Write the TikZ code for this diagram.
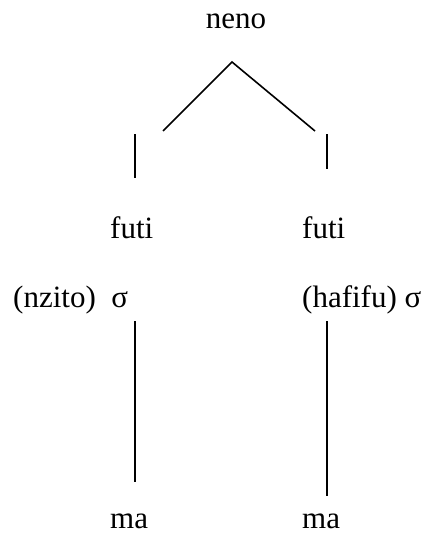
\documentclass[tikz,border=0pt]{standalone}
\usepackage{fontspec}
\setmainfont{Liberation Serif}
\begin{document}
\begin{tikzpicture}[x=1pt,y=-1pt,
  lbl/.style={anchor=base west,inner sep=0pt,font=\fontsize{31}{37}\selectfont},
  edge/.style={line width=1.6pt}]
\useasboundingbox (0,0) rectangle (425,538);
\node[lbl,anchor=base] (neno) at (236,28) {neno};
\node[lbl] (futiL) at (110,238) {futi};
\node[lbl] (futiR) at (302,238) {futi};
\node[lbl] (sigL) at (13,307) {(nzito)\ \ σ};
\node[lbl] (sigR) at (302,307) {(hafifu) σ};
\node[lbl] (maL) at (110,528) {ma};
\node[lbl] (maR) at (302,528) {ma};
\coordinate (apex) at (232,62);
\coordinate (dl) at (163,131);
\coordinate (dr) at (315,131);
\coordinate (vl1) at (135,134);
\coordinate (vl2) at (135,178);
\coordinate (vr1) at (327,134);
\coordinate (vr2) at (327,169);
\coordinate (bl1) at (135,321);
\coordinate (bl2) at (135,482);
\coordinate (br1) at (327,321);
\coordinate (br2) at (327,496);
\draw[edge] (dl) -- (apex) -- (dr);
\draw[edge] (vl1) -- (vl2);
\draw[edge] (vr1) -- (vr2);
\draw[edge] (bl1) -- (bl2);
\draw[edge] (br1) -- (br2);
\end{tikzpicture}
\end{document}
